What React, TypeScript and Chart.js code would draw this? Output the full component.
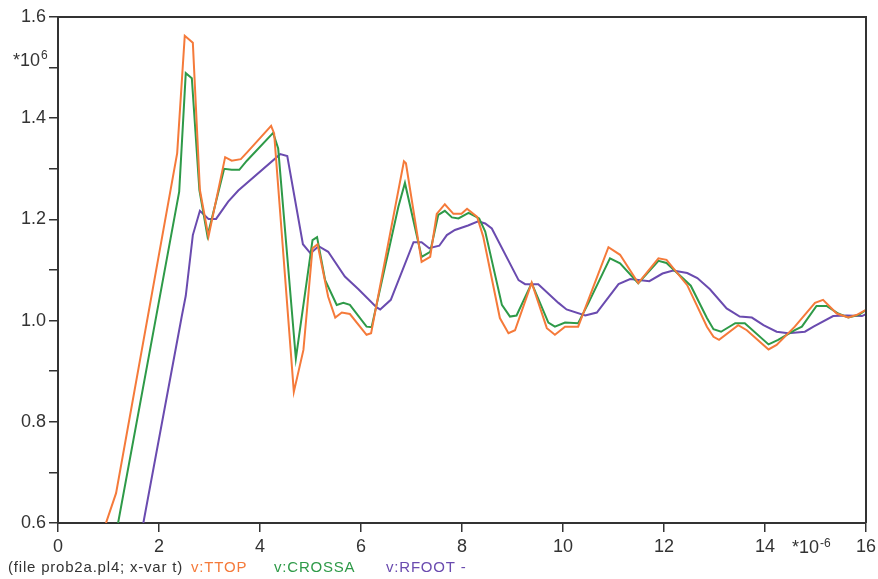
import React, { useEffect, useRef } from "react";
import { Chart, registerables } from "chart.js";

Chart.register(...registerables);

// ---- data (x in µs, y in *10^6) ----
const ttopT = [0.95, 1.15, 2.36, 2.51, 2.67, 2.81, 2.98, 3.31, 3.44, 3.62, 3.74, 4.22, 4.28, 4.67, 4.86, 5.04, 5.14, 5.35, 5.49, 5.62, 5.78, 6.11, 6.2, 6.85, 6.89, 7.2, 7.37, 7.5, 7.66, 7.83, 7.99, 8.1, 8.3, 8.42, 8.75, 8.92, 9.05, 9.38, 9.68, 9.84, 10.04, 10.3, 10.9, 11.13, 11.49, 11.89, 12.05, 12.46, 12.85, 12.98, 13.09, 13.47, 13.64, 14.07, 14.23, 14.59, 14.99, 15.15, 15.42, 15.65, 15.81, 16.0];
const ttopV = [0.6, 0.659, 1.331, 1.563, 1.549, 1.258, 1.166, 1.323, 1.316, 1.319, 1.332, 1.385, 1.37, 0.859, 0.942, 1.143, 1.151, 1.047, 1.006, 1.016, 1.013, 0.972, 0.975, 1.315, 1.311, 1.116, 1.126, 1.211, 1.23, 1.211, 1.211, 1.221, 1.205, 1.166, 1.005, 0.975, 0.981, 1.075, 0.985, 0.972, 0.988, 0.988, 1.145, 1.13, 1.074, 1.123, 1.12, 1.07, 0.988, 0.968, 0.962, 0.991, 0.981, 0.943, 0.952, 0.988, 1.035, 1.041, 1.014, 1.006, 1.011, 1.021];

const crossaT = [1.19, 2.4, 2.53, 2.65, 2.8, 2.96, 3.29, 3.44, 3.59, 3.74, 4.26, 4.36, 4.71, 5.04, 5.13, 5.29, 5.52, 5.65, 5.78, 6.11, 6.21, 6.74, 6.87, 7.2, 7.37, 7.53, 7.66, 7.8, 7.93, 8.13, 8.34, 8.46, 8.79, 8.95, 9.08, 9.38, 9.71, 9.84, 10.04, 10.3, 10.5, 10.93, 11.13, 11.49, 11.89, 12.05, 12.53, 12.85, 12.98, 13.13, 13.41, 13.6, 14.07, 14.26, 14.59, 14.73, 15.02, 15.22, 15.45, 15.65, 15.85, 16.0];
const crossaV = [0.6, 1.255, 1.489, 1.479, 1.258, 1.167, 1.3, 1.298, 1.298, 1.316, 1.371, 1.34, 0.925, 1.159, 1.165, 1.08, 1.031, 1.035, 1.031, 0.988, 0.987, 1.225, 1.272, 1.126, 1.136, 1.209, 1.217, 1.204, 1.202, 1.213, 1.202, 1.176, 1.031, 1.008, 1.01, 1.074, 0.996, 0.988, 0.996, 0.995, 1.034, 1.123, 1.113, 1.074, 1.118, 1.114, 1.069, 1.005, 0.983, 0.978, 0.995, 0.995, 0.953, 0.962, 0.981, 0.988, 1.029, 1.029, 1.014, 1.006, 1.011, 1.021];

const rfootT = [1.69, 2.45, 2.53, 2.67, 2.81, 2.98, 3.13, 3.37, 3.57, 4.4, 4.54, 4.85, 5.0, 5.16, 5.35, 5.68, 5.95, 6.31, 6.38, 6.59, 7.04, 7.2, 7.35, 7.55, 7.7, 7.86, 8.12, 8.32, 8.46, 8.59, 9.12, 9.25, 9.51, 9.91, 10.07, 10.44, 10.67, 11.1, 11.33, 11.71, 11.97, 12.18, 12.46, 12.66, 12.91, 13.24, 13.5, 13.74, 13.97, 14.23, 14.46, 14.79, 14.96, 15.35, 15.62, 15.92, 16.0];
const rfootV = [0.6, 1.008, 1.049, 1.169, 1.217, 1.201, 1.201, 1.235, 1.257, 1.329, 1.325, 1.151, 1.133, 1.147, 1.136, 1.087, 1.062, 1.026, 1.022, 1.041, 1.155, 1.155, 1.143, 1.148, 1.169, 1.179, 1.188, 1.196, 1.192, 1.182, 1.08, 1.072, 1.072, 1.035, 1.022, 1.01, 1.016, 1.072, 1.082, 1.078, 1.093, 1.099, 1.094, 1.084, 1.062, 1.024, 1.008, 1.006, 0.991, 0.978, 0.975, 0.978, 0.988, 1.009, 1.01, 1.009, 1.013];

const seriesNames = ["v:TTOP", "v:CROSSA", "v:RFOOT -"];
const seriesColors = ["#F57A3A", "#2E9A48", "#6A4BAF"];
const xTickValues = [0, 2, 4, 6, 8, 10, 12, 14, 16];
const yLabelValues = [0.6, 0.8, 1.0, 1.2, 1.4, 1.6];
const fileLabel = "(file prob2a.pl4; x-var t)";

const FONT = "'Liberation Sans', Arial, sans-serif";
const INK = "#333333";

const zip = (t: number[], v: number[]) => t.map((x, i) => ({ x, y: v[i] }));

export default function App() {
  const ref = useRef<HTMLCanvasElement | null>(null);

  useEffect(() => {
    if (!ref.current) return;

    const decor = {
      id: "decor",
      afterDatasetsDraw(chart: any) {
        const { ctx, chartArea } = chart;
        ctx.save();
        ctx.strokeStyle = INK;
        ctx.lineWidth = 2;
        ctx.beginPath();
        ctx.moveTo(chartArea.left, chartArea.top);
        ctx.lineTo(chartArea.right, chartArea.top);
        ctx.lineTo(chartArea.right, chartArea.bottom);
        ctx.stroke();
        ctx.restore();
      },
      afterDraw(chart: any) {
        const { ctx } = chart;
        ctx.save();
        ctx.fillStyle = INK;
        ctx.textBaseline = "alphabetic";
        // y multiplier
        ctx.font = `18px ${FONT}`;
        ctx.textAlign = "left";
        ctx.fillText("*10", 13, 66);
        const w1 = ctx.measureText("*10").width;
        ctx.font = `12px ${FONT}`;
        ctx.fillText("6", 13 + w1 + 1, 59);
        // x multiplier
        ctx.font = `18px ${FONT}`;
        ctx.fillText("*10", 792, 553);
        const w2 = ctx.measureText("*10").width;
        ctx.font = `12px ${FONT}`;
        ctx.fillText("-6", 792 + w2 + 1, 547);
        // legend line
        ctx.font = `15px ${FONT}`;
        try {
          (ctx as any).letterSpacing = "0.8px";
        } catch (e) {}
        ctx.fillText(fileLabel, 8, 572);
        const xs = [191, 274, 386];
        seriesNames.forEach((n, i) => {
          ctx.fillStyle = seriesColors[i];
          ctx.fillText(n, xs[i], 572);
        });
        try {
          (ctx as any).letterSpacing = "0px";
        } catch (e) {}
        ctx.restore();
      },
    };

    const chart = new Chart(ref.current, {
      type: "line",
      data: {
        datasets: [
          { label: seriesNames[0], data: zip(ttopT, ttopV), borderColor: seriesColors[0] },
          { label: seriesNames[1], data: zip(crossaT, crossaV), borderColor: seriesColors[1] },
          { label: seriesNames[2], data: zip(rfootT, rfootV), borderColor: seriesColors[2] },
        ].map((d) => ({ ...d, borderWidth: 2, pointRadius: 0, tension: 0, fill: false })),
      },
      options: {
        animation: false,
        responsive: false,
        events: [],
        layout: { padding: { left: 0, right: 12, top: 17, bottom: 0 } },
        plugins: { legend: { display: false }, tooltip: { enabled: false } },
        scales: {
          x: {
            type: "linear",
            min: 0,
            max: 16,
            afterBuildTicks: (s: any) => {
              s.ticks = xTickValues.map((v) => ({ value: v }));
            },
            afterFit: (s: any) => {
              s.height = 56;
              s.paddingRight = 0;
              s.paddingLeft = 0;
            },
            ticks: {
              color: INK,
              font: { family: FONT, size: 18 },
              padding: 4,
              maxRotation: 0,
              autoSkip: false,
              callback: (v: any) => String(v),
            },
            grid: { display: true, drawOnChartArea: false, drawTicks: true, tickLength: 9, color: INK, lineWidth: 1.5 },
            border: { display: true, color: INK, width: 2 },
          },
          y: {
            type: "linear",
            min: 0.6,
            max: 1.6,
            afterBuildTicks: (s: any) => {
              const arr = [];
              for (let i = 0; i <= 10; i++) arr.push({ value: Math.round((0.6 + i * 0.1) * 10) / 10 });
              s.ticks = arr;
            },
            afterFit: (s: any) => {
              s.width = 58;
              s.paddingTop = 0;
              s.paddingBottom = 0;
            },
            ticks: {
              color: INK,
              font: { family: FONT, size: 18 },
              padding: 3,
              autoSkip: false,
              callback: (v: any) => {
                const f = yLabelValues.find((y) => Math.abs(y - Number(v)) < 1e-6);
                return f === undefined ? "" : f.toFixed(1);
              },
            },
            grid: { display: true, drawOnChartArea: false, drawTicks: true, tickLength: 9, color: INK, lineWidth: 1.5 },
            border: { display: true, color: INK, width: 2 },
          },
        },
      },
      plugins: [decor],
    } as any);

    return () => chart.destroy();
  }, []);

  return (
    <div style={{ position: "absolute", left: 0, top: 0, width: 878, height: 579, background: "#fff" }}>
      <canvas ref={ref} width={878} height={579} style={{ width: 878, height: 579, display: "block" }} />
    </div>
  );
}
